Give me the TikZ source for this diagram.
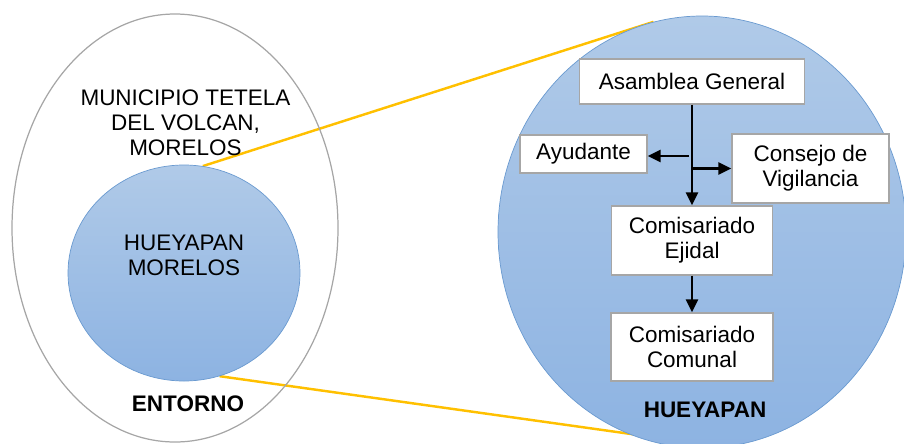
\documentclass[tikz,border=0pt]{standalone}
\usepackage{fontspec}
\setmainfont{Liberation Sans}
\usetikzlibrary{shapes.geometric,arrows.meta}

\definecolor{circtop}{HTML}{B0CAE8}
\definecolor{circbot}{HTML}{8DB3E2}
\definecolor{circline}{HTML}{6A9AD0}
\definecolor{boxline}{HTML}{A6A6A6}
\definecolor{linkyellow}{HTML}{FFC000}

\pgfdeclarelayer{background}
\pgfsetlayers{background,main}

\begin{document}
\begin{tikzpicture}[
	font=\fontsize{12.8pt}{14.2pt}\selectfont,
	bluecirc/.style={draw=circline, ellipse, top color=circtop, bottom color=circbot, inner sep=0pt},
	orgbox/.style={draw=boxline, line width=0.8pt, rectangle, fill=white, align=center, inner sep=0pt},
	orgarrow/.style={-{Triangle[length=0.26cm,width=0.24cm]}, line width=1.4pt},
	zoomline/.style={draw=linkyellow, line width=1.4pt}
]
	\useasboundingbox (0,0) rectangle (18.08,-8.86);
	\clip (0,0) rectangle (18.08,-8.86);

	% Entorno
	\node[draw=boxline, line width=0.7pt, ellipse, inner sep=0pt, minimum width=6.52cm, minimum height=8.56cm] (entorno) at (3.5,-4.56) {};

	% Hueyapan (left)
	\node[bluecirc, minimum width=4.64cm, minimum height=4.32cm] (hueyleft) at (3.68,-5.46) {};

	% Hueyapan (zoomed)
	\node[bluecirc, minimum width=8.16cm, minimum height=8.64cm] (hueyright) at (14.04,-4.64) {};

	% Zoom lines
	\coordinate (botend) at (14.4,-8.93);
	\begin{pgfonlayer}{background}
		\draw[zoomline] (hueyleft.80) -- (hueyright.103);
		\draw[zoomline] (hueyleft.-71) -- (botend);
	\end{pgfonlayer}

	% Labels
	\node[align=center] (municipio) at (3.71,-2.46) {MUNICIPIO TETELA\\DEL VOLCAN,\\MORELOS};
	\node[align=center] (hueylabel) at (3.68,-5.11) {HUEYAPAN\\MORELOS};
	\node[font=\fontsize{12.8pt}{14.2pt}\selectfont\bfseries] (entlabel) at (3.76,-8.08) {ENTORNO};
	\node[font=\fontsize{12.8pt}{14.2pt}\selectfont\bfseries] (hueyrightlabel) at (14.1,-8.2) {HUEYAPAN};

	% Asamblea General
	\node[orgbox, minimum width=4.5cm, minimum height=0.9cm] (asamblea) at (13.84,-1.63) {Asamblea General};

	% Ayudante
	\node[orgbox, minimum width=2.54cm, minimum height=0.76cm] (ayudante) at (11.67,-3.08) {Ayudante};

	% Consejo de Vigilancia
	\node[orgbox, minimum width=3.14cm, minimum height=1.38cm] (consejo) at (16.21,-3.37) {Consejo de\\Vigilancia};

	% Comisariado Ejidal
	\node[orgbox, minimum width=3.22cm, minimum height=1.38cm] (ejidal) at (13.84,-4.81) {Comisariado\\Ejidal};

	% Comisariado Comunal
	\node[orgbox, minimum width=3.24cm, minimum height=1.36cm] (comunal) at (13.84,-6.94) {Comisariado\\Comunal};

	% Arrows
	\coordinate (splitleft) at (13.78,-3.12);
	\draw[orgarrow] (asamblea.south) -- (ejidal.north);
	\draw[orgarrow] (splitleft) -- (splitleft -| ayudante.east);
	\draw[orgarrow] (asamblea.south |- consejo.west) -- (consejo.west);
	\draw[orgarrow] (ejidal.south) -- (comunal.north);
\end{tikzpicture}
\end{document}
